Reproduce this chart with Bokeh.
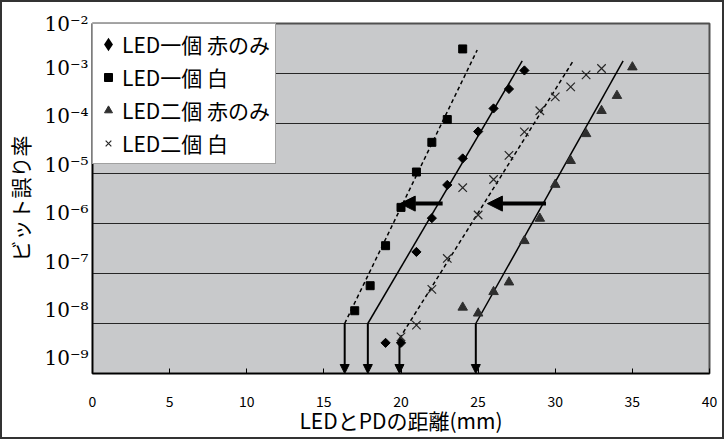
from bokeh.plotting import figure
from bokeh.models import (FixedTicker, Arrow, NormalHead, Legend, LegendItem,
                          ColumnDataSource)
from bokeh.embed import file_html
from bokeh.resources import INLINE

# ---------------- data ----------------
x_ticks = [0, 5, 10, 15, 20, 25, 30, 35, 40]
x_tick_labels = ["0", "5", "10", "15", "20", "25", "30", "35", "40"]
y_exponents = [-2, -3, -4, -5, -6, -7, -8, -9]
y_tick_labels = ["10⁻²", "10⁻³", "10⁻⁴", "10⁻⁵", "10⁻⁶", "10⁻⁷", "10⁻⁸", "10⁻⁹"]

series_names = ["LED一個 赤のみ", "LED一個 白", "LED二個 赤のみ", "LED二個 白"]

one_red_x = [19, 20, 21, 22, 23, 24, 25, 26, 27, 28]
one_red_ber = [4.1e-9, 4.1e-9, 2.7e-7, 1.28e-6, 5.9e-6, 2.0e-5, 6.9e-5, 2.0e-4, 4.9e-4, 1.15e-3]

one_white_x = [17, 18, 19, 20, 21, 22, 23, 24]
one_white_ber = [1.8e-8, 5.7e-8, 3.6e-7, 2.1e-6, 1.07e-5, 4.2e-5, 1.2e-4, 3.1e-3]

two_red_x = [24, 25, 26, 27, 28, 29, 30, 31, 32, 33, 34, 35]
two_red_ber = [2.1e-8, 1.6e-8, 4.3e-8, 6.7e-8, 4.5e-7, 1.26e-6, 6.0e-6, 1.8e-5,
               6.2e-5, 1.8e-4, 3.6e-4, 1.34e-3]

two_white_x = [20, 21, 22, 23, 24, 25, 26, 27, 28, 29, 30, 31, 32, 33]
two_white_ber = [5.4e-9, 9.3e-9, 4.8e-8, 2.0e-7, 5.2e-6, 1.48e-6, 7.6e-6, 2.3e-5,
                 6.8e-5, 1.8e-4, 3.4e-4, 5.4e-4, 9.4e-4, 1.26e-3]

# fitted (approximation) lines
fit_one_red_x = [17.85, 27.86]
fit_one_red_y = [1e-8, 1.78e-3]
fit_one_white_x = [16.35, 24.94]
fit_one_white_y = [1e-8, 2.95e-3]
fit_two_red_x = [24.85, 34.4]
fit_two_red_y = [1e-8, 1.78e-3]
fit_two_white_x = [19.9, 31.16]
fit_two_white_y = [5e-9, 1.78e-3]

# vertical arrows: distance where BER reaches the limit
drop_x = [16.35, 17.85, 19.9, 24.85]
drop_y_top = [1e-8, 1e-8, 5e-9, 1e-8]
drop_y_bottom = [1e-9, 1e-9, 1e-9, 1e-9]

# horizontal shift arrows
shift_from_x = [22.7, 29.4]
shift_to_x = [19.95, 25.6]
shift_y = [2.5e-6, 2.5e-6]

# ---------------- figure ----------------
p = figure(frame_width=617, frame_height=350, x_range=(0, 40), y_range=(1e-9, 1e-2),
           y_axis_type="log", output_backend="svg", toolbar_location=None,
           min_border_left=81, min_border_right=13, min_border_top=21,
           min_border_bottom=63)
p.styles = {"border": "2px solid #333333"}

p.background_fill_color = "#c8c9cb"
p.border_fill_color = "white"
p.outline_line_color = "#505050"
p.outline_line_width = 2

# x axis
p.xaxis.ticker = FixedTicker(ticks=x_ticks)
p.xaxis.major_label_overrides = {t: s for t, s in zip(x_ticks, x_tick_labels)}
p.xaxis.major_tick_in = 5
p.xaxis.major_tick_out = 0
p.xaxis.minor_tick_line_color = None
p.xaxis.major_tick_line_color = "black"
p.xaxis.axis_line_color = "black"
p.xaxis.axis_line_width = 1.5
p.xaxis.major_label_standoff = 22
p.xaxis.major_label_text_font = "Noto Sans CJK JP"
p.xaxis.major_label_text_font_size = "14px"
p.xaxis.major_label_text_color = "black"
p.xaxis.axis_label = "LEDとPDの距離(mm)"
p.xaxis.axis_label_text_font = "Noto Sans CJK JP"
p.xaxis.axis_label_text_font_size = "21px"
p.xaxis.axis_label_text_font_style = "normal"
p.xaxis.axis_label_text_color = "black"
p.xaxis.axis_label_standoff = -5
p.xgrid.grid_line_color = None

# y axis: gridlines on decades, labels sit a little above each decade line
y_decades = [10.0 ** e for e in y_exponents]
y_label_pos = [10.0 ** (e + ((4 + 1.6 * i) / 50.0 if i > 0 else 0.0))
               for i, e in enumerate(y_exponents)]
p.yaxis.ticker = FixedTicker(ticks=y_label_pos)
p.yaxis.major_label_overrides = {v: s for v, s in zip(y_label_pos, y_tick_labels)}
p.yaxis.major_tick_line_color = None
p.yaxis.minor_tick_line_color = None
p.yaxis.major_tick_out = 0
p.yaxis.major_tick_in = 0
p.yaxis.major_label_standoff = 4
p.yaxis.major_label_text_font = "DejaVu Serif"
p.yaxis.major_label_text_font_size = "20px"
p.yaxis.major_label_text_color = "black"
p.yaxis.axis_line_color = "black"
p.yaxis.axis_line_width = 1.5
p.yaxis.axis_label = "ビット誤り率"
p.yaxis.axis_label_text_font = "Noto Sans CJK JP"
p.yaxis.axis_label_text_font_size = "21px"
p.yaxis.axis_label_text_font_style = "normal"
p.yaxis.axis_label_text_color = "black"
p.yaxis.axis_label_standoff = 6
p.ygrid.ticker = FixedTicker(ticks=y_decades)
p.ygrid.grid_line_color = "#262626"
p.ygrid.grid_line_width = 1

# fit lines
p.line(fit_one_white_x, fit_one_white_y, line_color="black", line_width=1.5, line_dash="4 3")
p.line(fit_one_red_x, fit_one_red_y, line_color="black", line_width=1.5)
p.line(fit_two_white_x, fit_two_white_y, line_color="black", line_width=1.5, line_dash="4 3")
p.line(fit_two_red_x, fit_two_red_y, line_color="black", line_width=1.5)

# markers
r1 = p.scatter(one_red_x, one_red_ber, marker="square", size=6.5, angle=0.785398,
               fill_color="black", line_color="black")
r2 = p.scatter(one_white_x, one_white_ber, marker="square", size=8,
               fill_color="black", line_color="black")
r3 = p.scatter(two_red_x, two_red_ber, marker="triangle", size=9.5,
               fill_color="#2e2e2e", line_color="#2e2e2e")
r4 = p.scatter(two_white_x, two_white_ber, marker="x", size=12,
               line_color="#262626", line_width=1.2)
# legend-only diamond symbol (no visible data)
r1_key = p.scatter([float("nan")], [float("nan")], marker="diamond", size=8,
                   fill_color="black", line_color="black", line_width=3,
                   line_join="miter")

# arrows
drop_src = ColumnDataSource(dict(xs=drop_x, ys=drop_y_top, xe=drop_x, ye=drop_y_bottom))
p.add_layout(Arrow(x_start="xs", y_start="ys", x_end="xe", y_end="ye", source=drop_src,
                   line_color="black", line_width=2,
                   end=NormalHead(size=9, fill_color="black", line_color="black")))
shift_src = ColumnDataSource(dict(xs=shift_from_x, ys=shift_y, xe=shift_to_x, ye=shift_y))
p.add_layout(Arrow(x_start="xs", y_start="ys", x_end="xe", y_end="ye", source=shift_src,
                   line_color="black", line_width=4,
                   end=NormalHead(size=15, fill_color="black", line_color="black")))

legend = Legend(items=[LegendItem(label=series_names[0], renderers=[r1_key]),
                       LegendItem(label=series_names[1], renderers=[r2]),
                       LegendItem(label=series_names[2], renderers=[r3]),
                       LegendItem(label=series_names[3], renderers=[r4])],
                location="top_left", margin=0, padding=5, spacing=3,
                glyph_height=30, glyph_width=20, label_height=30, label_standoff=4,
                label_text_font="Noto Sans CJK JP", label_text_font_size="21px",
                label_text_color="black",
                border_line_color="#444444", border_line_width=1.5,
                background_fill_color="white", background_fill_alpha=1.0)
p.add_layout(legend)

open("out.html", "w").write(file_html(p, INLINE))
